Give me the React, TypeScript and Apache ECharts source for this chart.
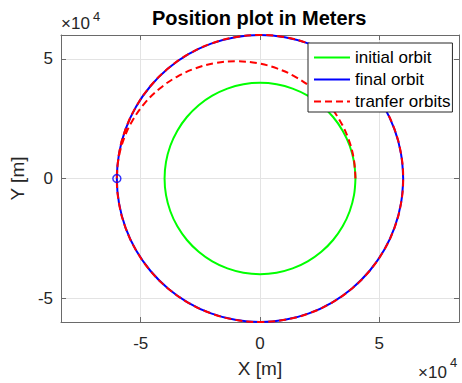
import React, { useEffect, useRef } from "react";
import * as echarts from "echarts";

// Orbit sample points [x, y] in meters
const initialOrbit: number[][] = [
  [40000, 0], [39392, 6946], [37588, 13681], [34641, 20000], [30642, 25712], [25712, 30642],
  [20000, 34641], [13681, 37588], [6946, 39392], [0, 40000], [-6946, 39392], [-13681, 37588],
  [-20000, 34641], [-25712, 30642], [-30642, 25712], [-34641, 20000], [-37588, 13681], [-39392, 6946],
  [-40000, 0], [-39392, -6946], [-37588, -13681], [-34641, -20000], [-30642, -25712], [-25712, -30642],
  [-20000, -34641], [-13681, -37588], [-6946, -39392], [0, -40000], [6946, -39392], [13681, -37588],
  [20000, -34641], [25712, -30642], [30642, -25712], [34641, -20000], [37588, -13681], [39392, -6946],
  [40000, 0],
];

const finalOrbit: number[][] = [
  [60000, 0], [59088, 10419], [56382, 20521], [51962, 30000], [45963, 38567], [38567, 45963],
  [30000, 51962], [20521, 56382], [10419, 59088], [0, 60000], [-10419, 59088], [-20521, 56382],
  [-30000, 51962], [-38567, 45963], [-45963, 38567], [-51962, 30000], [-56382, 20521], [-59088, 10419],
  [-60000, 0], [-59088, -10419], [-56382, -20521], [-51962, -30000], [-45963, -38567], [-38567, -45963],
  [-30000, -51962], [-20521, -56382], [-10419, -59088], [0, -60000], [10419, -59088], [20521, -56382],
  [30000, -51962], [38567, -45963], [45963, -38567], [51962, -30000], [56382, -20521], [59088, -10419],
  [60000, 0],
];

const transferArc: number[][] = [
  [40000, 0], [39240, 8507], [36985, 16755], [33301, 24495], [28302, 31490], [22139, 37528],
  [15000, 42426], [7101, 46035], [-1318, 48246], [-10000, 48990], [-18682, 48246], [-27101, 46035],
  [-35000, 42426], [-42139, 37528], [-48302, 31490], [-53301, 24495], [-56985, 16755], [-59240, 8507],
  [-60000, 0],
];

const transferPoint: number[][] = [[-60000, 0]];

const seriesNames = ["initial orbit", "final orbit", "tranfer orbits"];
const xTicks = [-50000, 0, 50000];
const yTicks = [-50000, 0, 50000];

const FONT = "'Liberation Sans', Arial, Helvetica, sans-serif";
const TXT = "#262626";
const AXIS = "#6a6a6a";

export default function App() {
  const ref = useRef<HTMLDivElement>(null);
  useEffect(() => {
    if (!ref.current) return;
    const chart = echarts.init(ref.current, undefined, { renderer: "svg" });
    const transferPath = [...transferArc, ...finalOrbit.slice(19), ...finalOrbit.slice(1, 19)];
    const fmt = (v: number) => String(v / 10000);
    const axisLine = { show: true, onZero: false, lineStyle: { color: AXIS, width: 1 } };
    const tick = (vals: number[]) => ({
      show: true,
      inside: true,
      length: 5,
      customValues: vals,
      lineStyle: { color: AXIS },
    });
    chart.setOption({
      animation: false,
      backgroundColor: "#ffffff",
      title: {
        text: "Position plot in Meters",
        left: 152,
        top: 8,
        padding: 0,
        textStyle: { fontFamily: FONT, fontSize: 20, fontWeight: "bold", color: "#000" },
      },
      legend: {
        data: seriesNames,
        orient: "vertical",
        left: 308,
        top: 43,
        padding: [6, 2, 2, 5],
        itemGap: 5,
        itemWidth: 36,
        itemHeight: 14,
        backgroundColor: "#ffffff",
        borderColor: "#262626",
        borderWidth: 1,
        borderRadius: 0,
        itemStyle: { opacity: 0 },
        textStyle: { fontFamily: FONT, fontSize: 17, color: "#000", lineHeight: 17 },
      },
      grid: { left: 60, right: 3, top: 35, bottom: 61, containLabel: false },
      xAxis: [
        {
          type: "value",
          position: "bottom",
          min: -83400,
          max: 83400,
          name: "X [m]",
          nameLocation: "middle",
          nameGap: 37,
          nameTextStyle: { fontFamily: FONT, fontSize: 19, color: TXT },
          axisLine,
          axisTick: tick(xTicks),
          axisLabel: { customValues: xTicks, formatter: fmt, fontFamily: FONT, fontSize: 17, color: TXT, margin: 13 },
          splitLine: { show: true, lineStyle: { color: "#e3e3e3", width: 1 } },
        },
        {
          type: "value",
          position: "top",
          min: -83400,
          max: 83400,
          axisLine,
          axisTick: tick(xTicks),
          axisLabel: { show: false },
          splitLine: { show: false },
        },
      ],
      yAxis: [
        {
          type: "value",
          position: "left",
          min: -60000,
          max: 60000,
          name: "Y [m]",
          nameLocation: "middle",
          nameGap: 27,
          nameTextStyle: { fontFamily: FONT, fontSize: 19, color: TXT },
          axisLine,
          axisTick: tick(yTicks),
          axisLabel: { customValues: yTicks, formatter: fmt, fontFamily: FONT, fontSize: 17, color: TXT, margin: 8 },
          splitLine: { show: true, lineStyle: { color: "#e3e3e3", width: 1 } },
        },
        {
          type: "value",
          position: "right",
          min: -60000,
          max: 60000,
          axisLine,
          axisTick: tick(yTicks),
          axisLabel: { show: false },
          splitLine: { show: false },
        },
      ],
      graphic: [
        { type: "text", left: 61, top: 15, style: { text: "×10", fontFamily: FONT, fontSize: 17, fill: TXT } },
        { type: "text", left: 93, top: 10, style: { text: "4", fontFamily: FONT, fontSize: 13, fill: TXT } },
        { type: "text", left: 418, top: 364, style: { text: "×10", fontFamily: FONT, fontSize: 17, fill: TXT } },
        { type: "text", left: 450, top: 356, style: { text: "4", fontFamily: FONT, fontSize: 13, fill: TXT } },
      ],
      series: [
        {
          name: seriesNames[0],
          type: "line",
          data: initialOrbit,
          symbol: "none",
          smooth: 0.4,
          lineStyle: { color: "#00ff00", width: 2 },
          itemStyle: { color: "#00ff00" },
        },
        {
          name: seriesNames[1],
          type: "line",
          data: finalOrbit,
          symbol: "none",
          smooth: 0.4,
          lineStyle: { color: "#0000ff", width: 2 },
          itemStyle: { color: "#0000ff" },
        },
        {
          name: seriesNames[2],
          type: "line",
          data: transferPath,
          symbol: "none",
          smooth: 0.4,
          lineStyle: { color: "#ff0000", width: 2, type: [7, 4] },
          itemStyle: { color: "#ff0000" },
        },
        {
          type: "scatter",
          data: transferPoint,
          symbol: "circle",
          symbolSize: 8,
          itemStyle: { color: "rgba(255,255,255,0)", borderColor: "#0000ff", borderWidth: 1.5 },
          z: 5,
        },
      ],
    });
    return () => chart.dispose();
  }, []);
  return (
    <div
      ref={ref}
      style={{ position: "fixed", left: 0, top: 0, width: 462, height: 383, background: "#fff" }}
    />
  );
}
